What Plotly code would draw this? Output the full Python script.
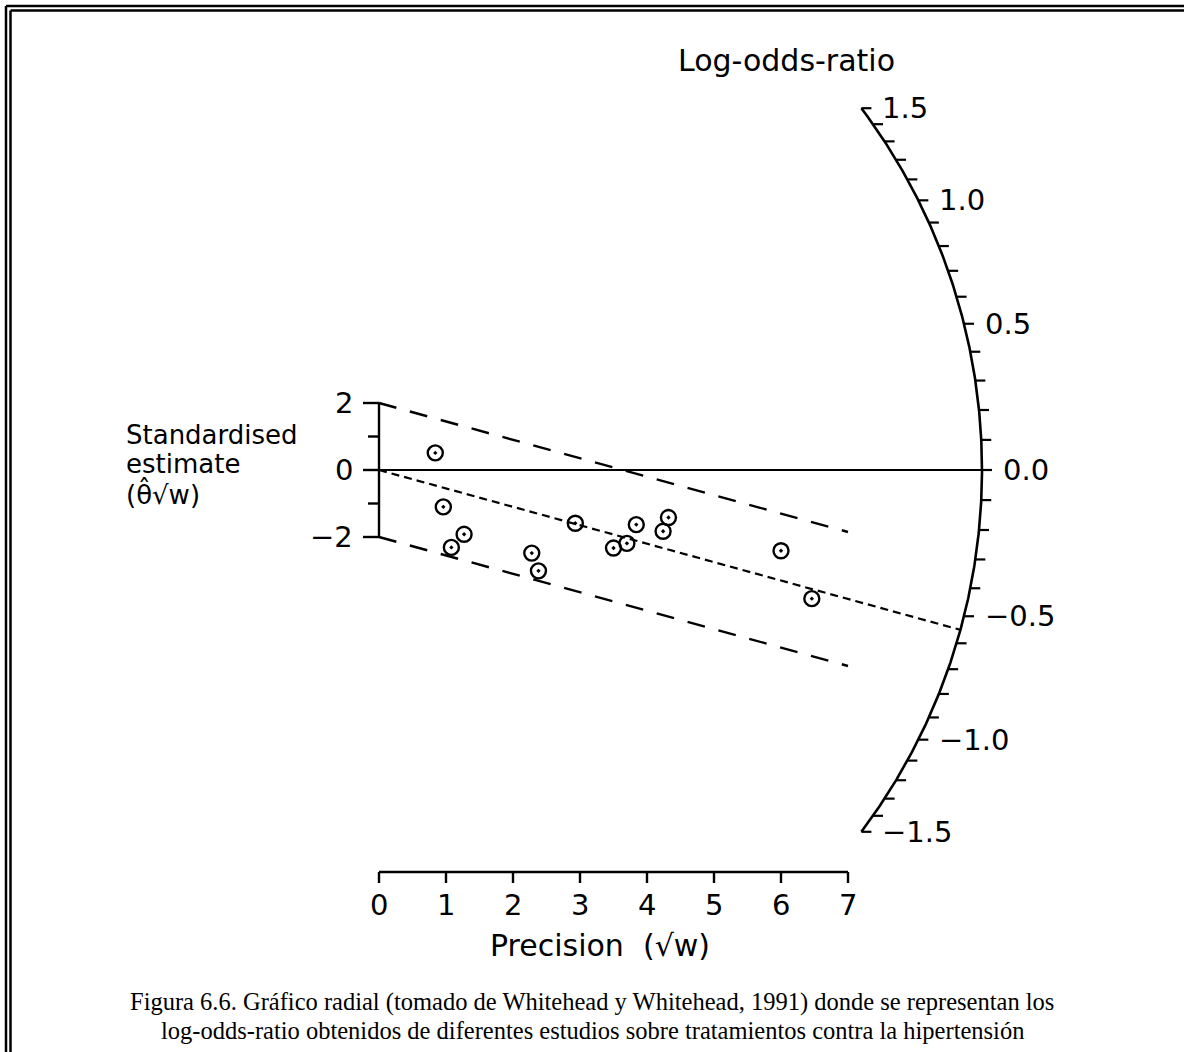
import numpy as np
import plotly.graph_objects as go

# ---------------- data ----------------
precision = [0.84, 0.96, 1.27, 1.08, 2.28, 2.38, 2.93, 3.50, 3.70, 3.84, 4.32, 4.24, 6.00, 6.46]
std_estimate = [0.51, -1.10, -1.92, -2.31, -2.48, -3.01, -1.59, -2.33, -2.19, -1.63, -1.42, -1.83, -2.41, -3.84]
pooled_log_or = -0.55
band = 2.0
x_ticks = [0, 1, 2, 3, 4, 5, 6, 7]
y_ticks = [-2, -1, 0, 1, 2]
y_tick_labels = {2: "2", 0: "0", -2: "\u22122"}
arc_minor = [round(v, 1) for v in np.arange(-1.5, 1.51, 0.1)]
arc_major = [1.5, 1.0, 0.5, 0.0, -0.5, -1.0, -1.5]
arc_major_labels = ["1.5", "1.0", "0.5", "0.0", "\u22120.5", "\u22121.0", "\u22121.5"]
left_title_lines = ["Standardised", "estimate", "(\u03b8\u0302\u221aw)"]
caption_lines = [
    "Figura 6.6. Gráfico radial (tomado de Whitehead y Whitehead, 1991) donde se representan los",
    "log-odds-ratio obtenidos de diferentes estudios sobre tratamientos contra la hipertensión",
]

# ---------------- geometry ----------------
W, H = 1184, 1052
SX, SY = 67.0, 33.5          # pixels per unit
OX, OY = 379.0, 470.0        # pixel position of origin
R = 9.0                      # arc radius in precision units
x_rng = [-OX / SX, (W - OX) / SX]
y_rng = [(OY - H) / SY, OY / SY]


def arc_xy(theta):
    phi = np.arctan(np.asarray(theta) * SY / SX)
    return R * np.cos(phi), R * np.sin(phi) * SX / SY


FONT = "DejaVu Sans"
BLACK = "#000000"
fig = go.Figure()

# arc
th = np.linspace(-1.5, 1.5, 400)
ax_, ay_ = arc_xy(th)
fig.add_trace(go.Scatter(x=ax_, y=ay_, mode="lines", line=dict(color=BLACK, width=2.6),
                         hoverinfo="skip", showlegend=False))
# arc ticks
tx, ty = [], []
for t in arc_minor:
    x0, y0 = arc_xy(t)
    tx += [float(x0), float(x0) + 10 / SX, None]
    ty += [float(y0), float(y0), None]
fig.add_trace(go.Scatter(x=tx, y=ty, mode="lines", line=dict(color=BLACK, width=2.2),
                         hoverinfo="skip", showlegend=False))
for t, lab in zip(arc_major, arc_major_labels):
    x0, y0 = arc_xy(t)
    fig.add_annotation(x=float(x0) + 19 / SX, y=float(y0), text=lab, showarrow=False,
                       xanchor="left", yanchor="middle",
                       font=dict(family=FONT, size=29, color=BLACK))

# zero line (solid)
zx, zy = arc_xy(0.0)
fig.add_trace(go.Scatter(x=[0, float(zx)], y=[0, float(zy)], mode="lines",
                         line=dict(color=BLACK, width=2.2), hoverinfo="skip", showlegend=False))
# pooled estimate line (dotted) to arc
px_, py_ = arc_xy(pooled_log_or)
fig.add_trace(go.Scatter(x=[0, float(px_)], y=[0, float(py_)], mode="lines",
                         line=dict(color=BLACK, width=2.2, dash="8px,5px"),
                         hoverinfo="skip", showlegend=False))
# +-2 band (dashed)
xb = np.array([0.0, 7.0])
for s in (band, -band):
    fig.add_trace(go.Scatter(x=xb, y=s + pooled_log_or * xb, mode="lines",
                             line=dict(color=BLACK, width=2.4, dash="18px,14px"),
                             hoverinfo="skip", showlegend=False))

# y axis (standardised estimate)
yx, yy = [0, 0, None], [min(y_ticks), max(y_ticks), None]
for v in y_ticks:
    ln = 16 if v in y_tick_labels else 11
    yx += [0, -ln / SX, None]
    yy += [v, v, None]
fig.add_trace(go.Scatter(x=yx, y=yy, mode="lines", line=dict(color=BLACK, width=2.4),
                         hoverinfo="skip", showlegend=False))
for v, lab in y_tick_labels.items():
    fig.add_annotation(x=-24 / SX, y=v, text=lab, showarrow=False, xanchor="right",
                       yanchor="middle", font=dict(family=FONT, size=29, color=BLACK))

# bottom axis (precision)
BY = -12.0
bx, by = [min(x_ticks), max(x_ticks), None], [BY, BY, None]
for v in x_ticks:
    bx += [v, v, None]
    by += [BY, BY - 11 / SY, None]
fig.add_trace(go.Scatter(x=bx, y=by, mode="lines", line=dict(color=BLACK, width=2.4),
                         hoverinfo="skip", showlegend=False))
for v in x_ticks:
    fig.add_annotation(x=v, y=BY - 33 / SY, text=str(v), showarrow=False,
                       xanchor="center", yanchor="middle",
                       font=dict(family=FONT, size=29, color=BLACK))

# study points
fig.add_trace(go.Scatter(x=precision, y=std_estimate, mode="markers",
                         marker=dict(symbol="circle-open-dot", size=15, color=BLACK,
                                     line=dict(color=BLACK, width=2.4)),
                         showlegend=False))

# axis titles
fig.add_annotation(x=(786 - OX) / SX, y=(OY - 60) / SY, text="Log-odds-ratio", showarrow=False,
                   xanchor="center", yanchor="middle", font=dict(family=FONT, size=30, color=BLACK))
fig.add_annotation(x=(600 - OX) / SX, y=(OY - 945) / SY, text="Precision\u00a0\u00a0(\u221aw)",
                   showarrow=False, xanchor="center", yanchor="middle",
                   font=dict(family=FONT, size=30, color=BLACK))
for i, line in enumerate(left_title_lines):
    fig.add_annotation(x=(124 - OX) / SX, y=(OY - (435 + 29 * i)) / SY,
                       text=line, showarrow=False, xanchor="left", yanchor="middle",
                       font=dict(family=FONT, size=26, color=BLACK))

# caption
for i, line in enumerate(caption_lines):
    fig.add_annotation(xref="paper", yref="paper", x=0.5, y=1 - (1002 + 28 * i) / H,
                       text=line, showarrow=False, xanchor="center", yanchor="middle",
                       font=dict(family="Liberation Serif", size=24.5, color=BLACK))

# double frame (top and left)
shapes = []
for off in (6, 10.5):
    shapes.append(dict(type="line", xref="paper", yref="paper",
                       x0=off / W, x1=1, y0=1 - off / H, y1=1 - off / H,
                       line=dict(color=BLACK, width=2.5)))
    shapes.append(dict(type="line", xref="paper", yref="paper",
                       x0=off / W, x1=off / W, y0=1 - off / H, y1=0,
                       line=dict(color=BLACK, width=2.5)))

fig.update_layout(
    width=W, height=H, margin=dict(l=0, r=0, t=0, b=0),
    paper_bgcolor="white", plot_bgcolor="white",
    xaxis=dict(range=x_rng, visible=False, fixedrange=True),
    yaxis=dict(range=y_rng, visible=False, fixedrange=True),
    shapes=shapes, showlegend=False,
)

fig.write_html("out.html")
